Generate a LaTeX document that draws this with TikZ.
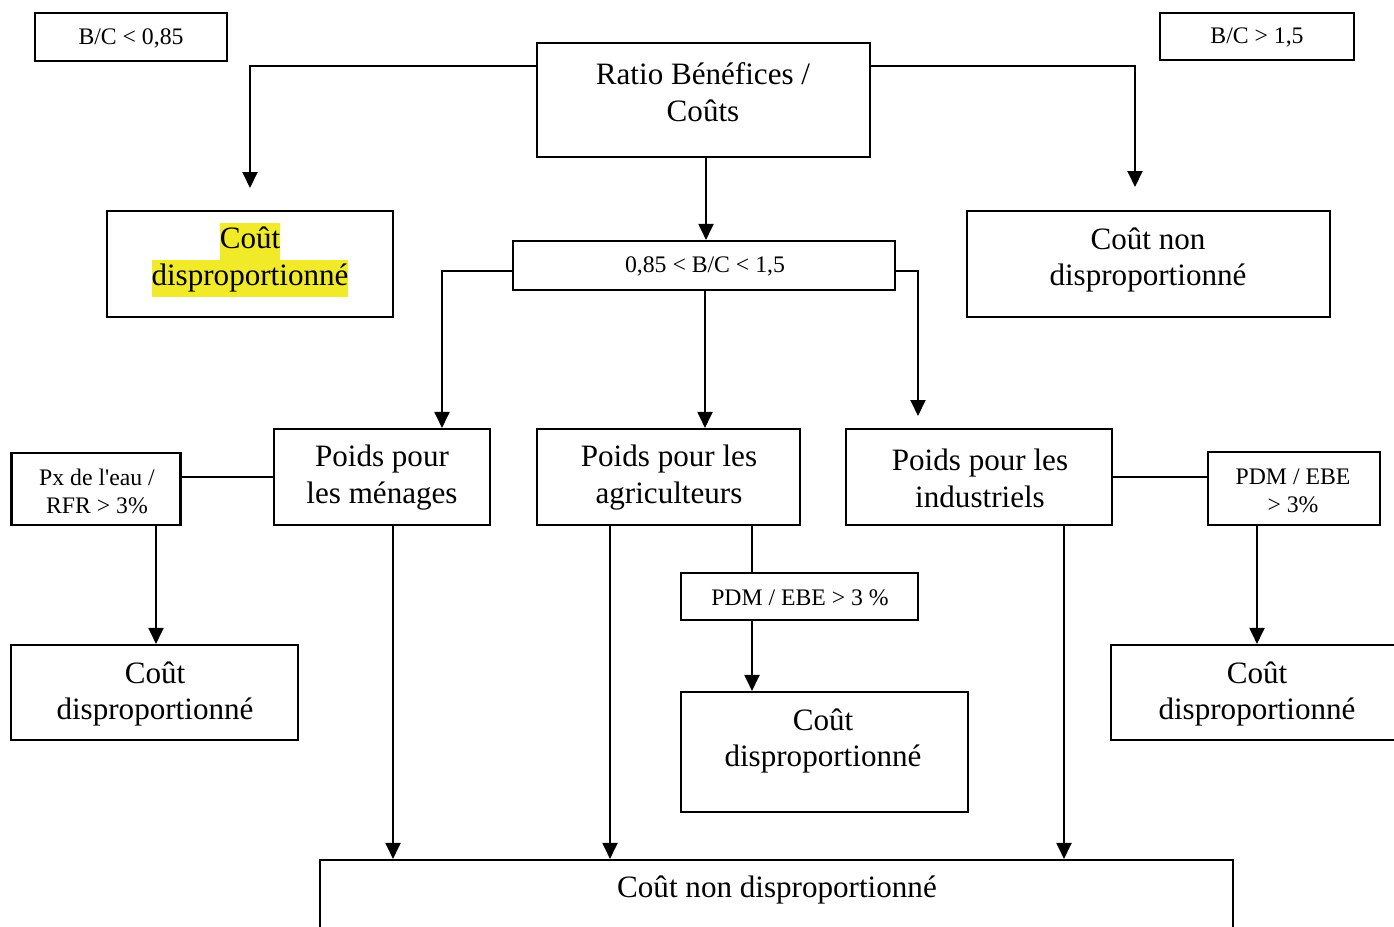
\documentclass[tikz,border=0pt]{standalone}
\usepackage{fontspec}
\setmainfont{Liberation Serif}
\newfontfamily\plainq{Liberation Serif}
\usetikzlibrary{arrows.meta}
\definecolor{hl}{RGB}{240,234,40}
\setlength{\fboxsep}{0pt}
\begin{document}
\begin{tikzpicture}[x=0.02cm,y=-0.02cm,
  box/.style={draw,line width=1.2pt,inner sep=0pt},
  big/.style={font=\fontsize{17.7}{21}\selectfont,align=center,inner sep=0pt},
  small/.style={font=\fontsize{13.5}{16}\selectfont,align=center,inner sep=0pt},
  arr/.style={line width=1.1pt,-{Triangle[width=0.3cm,length=0.32cm]}},
  ln/.style={line width=1.1pt}]
\fill[white] (0,0) rectangle (1394,927);
\clip (0,0) rectangle (1394,927);

% boxes
\node[box,minimum width=3.84cm,minimum height=0.96cm] (bc1) at (131,37) {};
\node[box,minimum width=3.88cm,minimum height=0.94cm] (bc2) at (1257,36.5) {};
\node[box,minimum width=6.66cm,minimum height=2.28cm] (ratio) at (703.5,100) {};
\node[box,minimum width=5.72cm,minimum height=2.12cm] (cdtop) at (250,264) {};
\node[box,minimum width=7.26cm,minimum height=2.12cm] (cndtop) at (1148.5,264) {};
\node[box,minimum width=7.64cm,minimum height=0.98cm] (mid) at (704,265.5) {};
\node[box,minimum width=4.32cm,minimum height=1.92cm] (menages) at (382,477) {};
\node[box,minimum width=5.26cm,minimum height=1.92cm] (agric) at (668.5,477) {};
\node[box,minimum width=5.32cm,minimum height=1.92cm] (indus) at (979,477) {};
\node[box,minimum width=3.38cm,minimum height=1.44cm] (pxe) at (96,489) {};
\node[box,minimum width=3.44cm,minimum height=1.46cm] (pdmr) at (1294,488.5) {};
\node[box,minimum width=4.74cm,minimum height=0.94cm] (pdmm) at (799.5,596.5) {};
\node[box,minimum width=5.74cm,minimum height=1.90cm] (cdl) at (154.5,692.5) {};
\node[box,minimum width=5.74cm,minimum height=2.40cm] (cdm) at (824.5,752) {};
\node[box,minimum width=5.84cm,minimum height=1.90cm] (cdr) at (1257,692.5) {};
\node[box,minimum width=18.26cm,minimum height=2.40cm] (bottom) at (776.5,920) {};

% texts
\node[small] at (131,38) {B/C < 0,85};
\node[small] at (1257,37) {B/C > 1,5};
\node[big] at (703,92) {Ratio Bénéfices /\\Coûts};
\node[big] at (250,260) {\colorbox{hl}{\strut Coût}\\\colorbox{hl}{\strut disproportionné}};
\node[big] at (1148,260) {Coût non\\disproportionné};
\node[small] at (705,266) {0,85 < B/C < 1,5};
\node[big] at (382,478) {Poids pour\\les ménages};
\node[big] at (669,478) {Poids pour les\\agriculteurs};
\node[big] at (980,478) {Poids pour les\\industriels};
\node[small] at (97,491) {Px de l{\plainq'}eau /\\RFR > 3\%};
\node[small] at (1293,491) {PDM / EBE\\> 3\%};
\node[small] at (800,598) {PDM / EBE > 3 \%};
\node[big] at (155,694) {Coût\\disproportionné};
\node[big] at (823,741) {Coût\\disproportionné};
\node[big] at (1257,694) {Coût\\disproportionné};
\node[big] at (777,890) {Coût non disproportionné};

% connector ends
\coordinate (a1) at (250,188);
\coordinate (a2) at (1135,187);
\coordinate (a6) at (918,416);

% connectors
\draw[arr] (ratio.west |- 0,66) -| (a1);
\draw[arr] (ratio.east |- 0,66) -| (a2);
\draw[arr] (ratio.south -| 706,0) -- (mid.north -| 706,0);
\draw[arr] (mid.west |- 0,271) -| (menages.north -| 442,0);
\draw[arr] (mid.south -| 705,0) -- (agric.north -| 705,0);
\draw[arr] (mid.east |- 0,271) -| (a6);
\draw[ln] (menages.west |- 0,477) -- (pxe.east |- 0,477);
\draw[arr] (pxe.south -| 156,0) -- (cdl.north -| 156,0);
\draw[arr] (menages.south -| 393,0) -- (bottom.north -| 393,0);
\draw[arr] (agric.south -| 610,0) -- (bottom.north -| 610,0);
\draw[ln] (agric.south -| 752,0) -- (pdmm.north -| 752,0);
\draw[arr] (pdmm.south -| 752,0) -- (cdm.north -| 752,0);
\draw[arr] (indus.south -| 1064,0) -- (bottom.north -| 1064,0);
\draw[ln] (indus.east |- 0,477) -- (pdmr.west |- 0,477);
\draw[arr] (pdmr.south -| 1257,0) -- (cdr.north -| 1257,0);
\end{tikzpicture}
\end{document}
